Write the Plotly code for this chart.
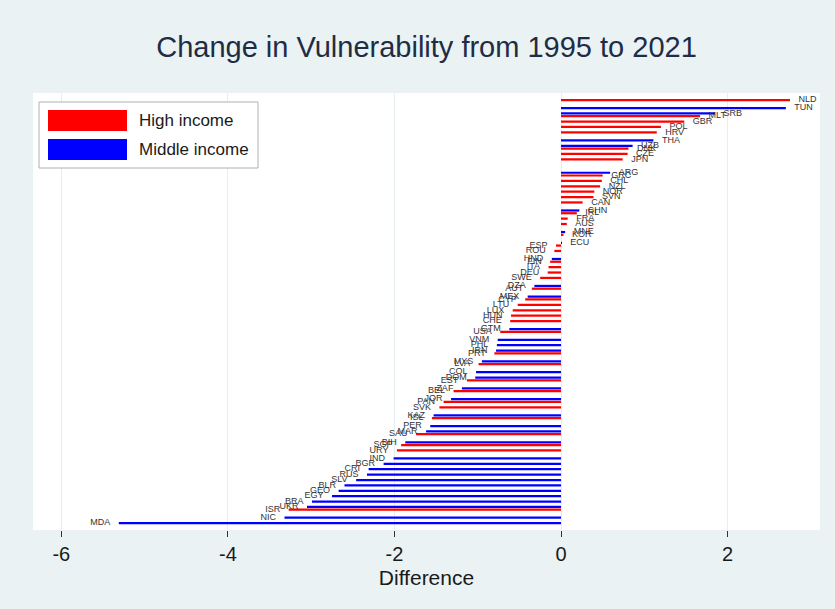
import plotly.graph_objects as go

# Change in vulnerability score between 1995 and 2021, sorted from largest
# increase to largest decrease. One row has no value (blank slot).
countries = [
    "NLD", "TUN", "SRB", "MLT", "GBR", "POL", "HRV", "THA", "UZB", "DNK",
    "CZE", "JPN", " ", "ARG", "GRC", "CHL", "NZL", "NOR", "SVN", "CAN",
    "CHN", "IRL", "FRA", "AUS", "MNE", "KOR", "ECU", "ESP", "ROU", "HND",
    "FIN", "ITA", "DEU", "SWE", "DZA", "AUT", "MEX", "CYP", "LTU", "LUX",
    "HUN", "CHE", "GTM", "USA", "VNM", "PHL", "IRN", "PRT", "MYS", "LVA",
    "COL", "DOM", "EST", "ZAF", "BEL", "JOR", "PAN", "SVK", "KAZ", "ISL",
    "PER", "MAR", "SAU", "BIH", "SGP", "URY", "IND", "BGR", "CRI", "RUS",
    "SLV", "BLR", "GEO", "EGY", "BRA", "UKR", "ISR", "NIC", "MDA",
]
diff = [
    2.75, 2.70, 1.85, 1.67, 1.48, 1.20, 1.15, 1.11, 0.86, 0.81,
    0.80, 0.74, None, 0.59, 0.50, 0.49, 0.47, 0.40, 0.39, 0.26,
    0.22, 0.19, 0.08, 0.07, 0.05, 0.03, 0.01, -0.06, -0.08, -0.11,
    -0.13, -0.15, -0.16, -0.25, -0.32, -0.35, -0.40, -0.43, -0.52, -0.58,
    -0.60, -0.61, -0.62, -0.73, -0.76, -0.77, -0.78, -0.80, -0.95, -0.99,
    -1.02, -1.03, -1.13, -1.19, -1.29, -1.32, -1.41, -1.46, -1.53, -1.55,
    -1.57, -1.62, -1.74, -1.87, -1.92, -1.97, -2.01, -2.13, -2.31, -2.33,
    -2.46, -2.60, -2.67, -2.75, -2.99, -3.05, -3.27, -3.32, -5.31,
]
income = [
    "H", "M", "M", "H", "H", "H", "H", "M", "M", "H",
    "H", "H", None, "M", "H", "H", "H", "H", "H", "H",
    "M", "H", "H", "H", "M", "H", "M", "H", "H", "M",
    "H", "H", "H", "H", "M", "H", "M", "H", "H", "H",
    "H", "H", "M", "H", "M", "M", "M", "H", "M", "H",
    "M", "M", "H", "M", "H", "M", "H", "H", "M", "H",
    "M", "M", "H", "M", "H", "H", "M", "M", "M", "M",
    "M", "M", "M", "M", "M", "M", "H", "M", "M",
]
groups = [("H", "High income", "#ff0000"), ("M", "Middle income", "#0000ff")]
x_ticks = [-6, -4, -2, 0, 2]

W, H = 835, 609
ML, MR, MT, MB = 33, 15, 93, 79
PW, PH = W - ML - MR, H - MT - MB

FONT = "Liberation Sans, Arial, sans-serif"
BG = "#eaf2f3"
GAP = 0.02

fig = go.Figure()
for code, name, color in groups:
    ys = [c for c, g in zip(countries, income) if g == code]
    xs = [v for v, g in zip(diff, income) if g == code]
    fig.add_trace(go.Bar(
        x=xs, y=ys, orientation="h", name=name, offsetgroup=code,
        marker=dict(color=color, line=dict(width=0)), showlegend=False,
    ))
    fig.add_trace(go.Scatter(
        x=xs, y=ys, mode="markers+text", text=ys, orientation="h",
        offsetgroup=code, showlegend=False, hoverinfo="skip",
        textposition=["middle right" if v >= 0 else "middle left" for v in xs],
        marker=dict(size=12, opacity=0),
        textfont=dict(family=FONT, size=9, color="#333333"),
        cliponaxis=False,
    ))


def px_x(p):
    return (p - ML) / PW


def px_y(p):
    return (H - MB - p) / PH


# legend box drawn in the upper-left corner of the plot area
shapes = [dict(type="rect", xref="paper", yref="paper",
               x0=px_x(39), x1=px_x(258), y0=px_y(168), y1=px_y(102),
               line=dict(color="#b0b0b0", width=1), fillcolor="white", layer="above")]
annotations = []
for i, (code, name, color) in enumerate(groups):
    top = 110 + i * 29
    shapes.append(dict(type="rect", xref="paper", yref="paper",
                       x0=px_x(48), x1=px_x(127), y0=px_y(top + 21), y1=px_y(top),
                       line=dict(width=0), fillcolor=color, layer="above"))
    annotations.append(dict(xref="paper", yref="paper", x=px_x(137), y=px_y(top + 10.5),
                            text=name, showarrow=False, xanchor="left", yanchor="middle",
                            font=dict(family=FONT, size=17, color="#1a1a1a")))

n = len(countries)
fig.update_layout(
    width=W, height=H,
    margin=dict(l=ML, r=MR, t=MT, b=MB),
    paper_bgcolor=BG, plot_bgcolor="white",
    barmode="group", bargap=GAP, bargroupgap=0.15,
    scattermode="group", scattergap=GAP,
    title=dict(text="Change in Vulnerability from 1995 to 2021", x=(ML + PW / 2) / W,
               xanchor="center", y=1 - 47 / H, yanchor="middle", yref="container",
               font=dict(family=FONT, size=29, color="#1e2d45")),
    xaxis=dict(range=[-6.34, 3.11], tickvals=x_ticks, ticktext=[str(t) for t in x_ticks],
               showgrid=True, gridcolor="#e6eef0", gridwidth=1, zeroline=False,
               showline=False, ticks="outside", ticklen=6, tickcolor="#333333",
               tickfont=dict(family=FONT, size=20, color="#1a1a1a"),
               title=dict(text="Difference", font=dict(family=FONT, size=21, color="#1a1a1a"),
                          standoff=6)),
    yaxis=dict(type="category", categoryorder="array", categoryarray=countries,
               range=[n - 1 + 1.52, -1.55], showticklabels=False, showgrid=False,
               zeroline=False, ticks=""),
    shapes=shapes, annotations=annotations,
    showlegend=False,
)

fig.write_html("out.html")
